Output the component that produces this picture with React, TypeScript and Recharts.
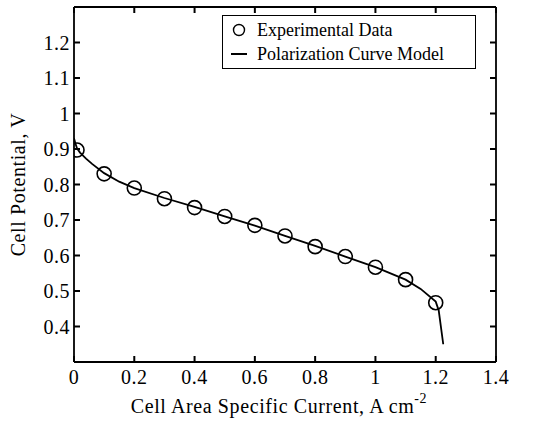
import {
  ComposedChart, Line, Scatter, XAxis, YAxis,
} from 'recharts'

// measured cell potential (V) vs current density (A/cm2)
const expCurrent = [0.01, 0.1, 0.2, 0.3, 0.4, 0.5, 0.6, 0.7, 0.8, 0.9, 1.0, 1.1, 1.2]
const expVoltage = [0.897, 0.83, 0.79, 0.76, 0.735, 0.71, 0.685, 0.655, 0.625, 0.597, 0.567, 0.532, 0.467]

// model curve
const modelCurrent = [0, 0.005, 0.01, 0.02, 0.04, 0.06, 0.1, 0.15, 0.2, 0.3, 0.4, 0.5, 0.6, 0.7, 0.8, 0.9, 1.0, 1.1, 1.15, 1.2, 1.21, 1.225]
const modelVoltage = [0.93, 0.915, 0.902, 0.89, 0.873, 0.858, 0.832, 0.808, 0.79, 0.762, 0.737, 0.71, 0.684, 0.655, 0.627, 0.597, 0.567, 0.532, 0.506, 0.47, 0.445, 0.35]

const xTicks = [0, 0.2, 0.4, 0.6, 0.8, 1, 1.2, 1.4]
const yTicks = [0.4, 0.5, 0.6, 0.7, 0.8, 0.9, 1, 1.1, 1.2]

const expData = expCurrent.map((x, i) => ({ x, y: expVoltage[i] }))
const modelData = modelCurrent.map((x, i) => ({ x, y: modelVoltage[i] }))

const FONT = '"Liberation Serif", "Times New Roman", serif'
const fmt = (v: number) => String(+v.toFixed(1))
const TL = 6 // inward tick length

// matlab-style ticks: short line inside the box + label outside
const BottomTick = ({ x, y, payload }: any) => (
  <g>
    <path d={`M${x},${y}V${y - TL}`} stroke="#000" strokeWidth={2} fill="none" />
    <text x={x} y={y + 22} textAnchor="middle" fontSize={20} fontFamily={FONT} letterSpacing={0.5} fill="#000">
      {fmt(payload.value)}
    </text>
  </g>
)
const LeftTick = ({ x, y, payload }: any) => (
  <g>
    <path d={`M${x},${y}H${x + TL}`} stroke="#000" strokeWidth={2} fill="none" />
    <text x={x - 4} y={y + 7} textAnchor="end" fontSize={20} fontFamily={FONT} letterSpacing={0.5} fill="#000">
      {fmt(payload.value)}
    </text>
  </g>
)
const TopTick = ({ x, y }: any) => (
  <path d={`M${x},${y}V${y + TL}`} stroke="#000" strokeWidth={2} fill="none" />
)
const RightTick = ({ x, y }: any) => (
  <path d={`M${x},${y}H${x - TL}`} stroke="#000" strokeWidth={2} fill="none" />
)

const OpenCircle = (props: any) => {
  const { cx, cy } = props
  if (cx == null || cy == null) return null
  return <circle cx={cx} cy={cy} r={7} fill="none" stroke="#000" strokeWidth={1.6} />
}

const LegendBox = () => (
  <div
    style={{
      position: 'absolute', left: 222, top: 15, width: 254, height: 54,
      border: '1.5px solid #000', background: '#fff', fontFamily: FONT,
      fontSize: 18, color: '#000', padding: '2px 0 0 8px', boxSizing: 'border-box',
    }}
  >
    <div style={{ display: 'flex', alignItems: 'center', height: 24 }}>
      <svg width={18} height={16} style={{ marginRight: 8 }}>
        <circle cx={8} cy={8} r={5.5} fill="none" stroke="#000" strokeWidth={1.4} />
      </svg>
      Experimental Data
    </div>
    <div style={{ display: 'flex', alignItems: 'center', height: 24 }}>
      <svg width={18} height={16} style={{ marginRight: 8 }}>
        <line x1={0} y1={8} x2={16} y2={8} stroke="#000" strokeWidth={2} />
      </svg>
      Polarization Curve Model
    </div>
  </div>
)

const XTitle = ({ viewBox }: any) => {
  const cx = viewBox.x + viewBox.width / 2
  return (
    <text x={cx - 6} y={viewBox.y + 51} textAnchor="middle" fontSize={20} letterSpacing={0.6} fontFamily={FONT} fill="#000">
      Cell Area Specific Current, A cm
      <tspan dy={-10} fontSize={14}>-2</tspan>
    </text>
  )
}

export default function App() {
  return (
    <div style={{ position: 'absolute', left: 0, top: 0, width: 558, height: 426, background: '#fff' }}>
      <ComposedChart
        width={558}
        height={426}
        margin={{ top: 6, right: 61, left: 0, bottom: 0 }}
      >
        <XAxis
          xAxisId="b"
          type="number"
          dataKey="x"
          domain={[0, 1.4]}
          ticks={xTicks}
          allowDataOverflow
          height={64}
          stroke="#000"
          strokeWidth={1.8}
          tickLine={false}
          tickSize={0}
          tickMargin={0}
          tick={<BottomTick />}
          label={<XTitle />}
        />
        <XAxis
          xAxisId="t"
          orientation="top"
          type="number"
          dataKey="x"
          domain={[0, 1.4]}
          ticks={xTicks}
          allowDataOverflow
          height={1}
          stroke="#000"
          strokeWidth={1.8}
          tickLine={false}
          tickSize={0}
          tickMargin={0}
          tick={<TopTick />}
        />
        <YAxis
          yAxisId="l"
          type="number"
          domain={[0.3, 1.3]}
          ticks={yTicks}
          allowDataOverflow
          width={74}
          stroke="#000"
          strokeWidth={1.8}
          tickLine={false}
          tickSize={0}
          tickMargin={0}
          tick={<LeftTick />}
          label={{
            value: 'Cell Potential, V', angle: -90, position: 'insideLeft', offset: 18,
            style: { fontSize: 20, fontFamily: FONT, fill: '#000', textAnchor: 'middle', letterSpacing: 0.6 },
          }}
        />
        <YAxis
          yAxisId="r"
          orientation="right"
          type="number"
          domain={[0.3, 1.3]}
          ticks={yTicks}
          allowDataOverflow
          width={1}
          stroke="#000"
          strokeWidth={1.8}
          tickLine={false}
          tickSize={0}
          tickMargin={0}
          tick={<RightTick />}
        />
        <Line
          xAxisId="b"
          yAxisId="l"
          data={modelData}
          dataKey="y"
          type="linear"
          stroke="#000"
          strokeWidth={1.8}
          dot={false}
          isAnimationActive={false}
        />
        <Scatter
          xAxisId="b"
          yAxisId="l"
          data={expData}
          dataKey="y"
          shape={<OpenCircle />}
          isAnimationActive={false}
        />
      </ComposedChart>
      <LegendBox />
    </div>
  )
}
